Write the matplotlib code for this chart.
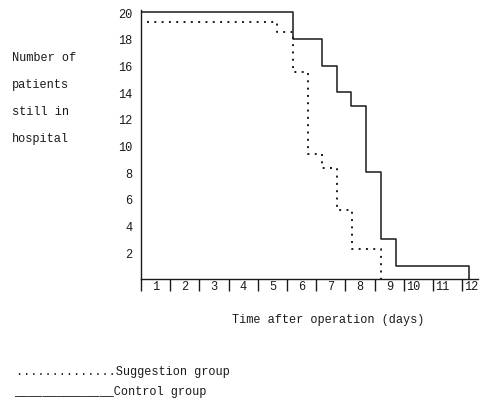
import matplotlib
matplotlib.use("Agg")
import matplotlib.pyplot as plt

# step times on the day axis (tick 0 = start of day 1) and patients left after each step
control_t = [0, 5.21, 6.20, 6.71, 7.19, 7.71, 8.22, 8.73, 11.23]
control_n = [20, 18, 16, 14, 13, 8, 3, 1, 0]
suggest_t = [0.2, 4.66, 5.21, 5.72, 6.20, 6.71, 7.22, 8.22]
suggest_n = [19.3, 18.5, 15.5, 9.4, 8.35, 5.2, 2.25, 0]

day_labels = [str(d) for d in range(1, 13)]
y_ticks = [2, 4, 6, 8, 10, 12, 14, 16, 18, 20]

mono = "Liberation Mono"
fs = 8.6
ink = "#1a1a1a"

fig = plt.figure(figsize=(4.89, 4.02), dpi=100)
ax = fig.add_axes([141 / 489, 1 - 280 / 402, 337 / 489, 269.5 / 402])

ax.step(control_t, control_n, where="post", color=ink, lw=1.1)
ax.step(suggest_t, suggest_n, where="post", color=ink, lw=1.4,
        linestyle=(0, (1, 2.76)))

ax.set_xlim(0, 11.54)
ax.set_ylim(0, 20.2)
for s in ("top", "right"):
    ax.spines[s].set_visible(False)
for s in ("left", "bottom"):
    ax.spines[s].set_color(ink)
    ax.spines[s].set_linewidth(1.0)

ax.set_xticks(range(0, 12))
ax.set_xticklabels([])
ax.tick_params(axis="x", direction="out", length=8.6, width=1.0, color=ink)
for i, lab in enumerate(day_labels):
    if len(lab) == 1:
        ax.text(i + 0.5, -0.5, lab, ha="center", va="center", family=mono,
                fontsize=fs, color=ink)
    else:
        ax.text(i + 0.08, -0.5, lab, ha="left", va="center", family=mono,
                fontsize=fs, color=ink)

ax.set_yticks(y_ticks)
ax.set_yticklabels([str(v) for v in y_ticks], family=mono, fontsize=fs, color=ink)
ax.tick_params(axis="y", length=0, pad=6)

fig.text(12 / 489, 1 - 98.5 / 402, "Number of\npatients\nstill in\nhospital",
         ha="left", va="center", family=mono, fontsize=fs, linespacing=2.65,
         color=ink)
fig.text(232 / 489, 1 - 320 / 402, "Time after operation (days)", ha="left",
         va="center", family=mono, fontsize=fs, color=ink)
fig.text(16 / 489, 1 - 372 / 402, "." * 14 + "Suggestion group", ha="left",
         va="center", family=mono, fontsize=fs, color=ink)
fig.text(14 / 489, 1 - 392 / 402, "_" * 14 + "Control group", ha="left",
         va="center", family=mono, fontsize=fs, color=ink)

fig.savefig("out.png", dpi=100)
